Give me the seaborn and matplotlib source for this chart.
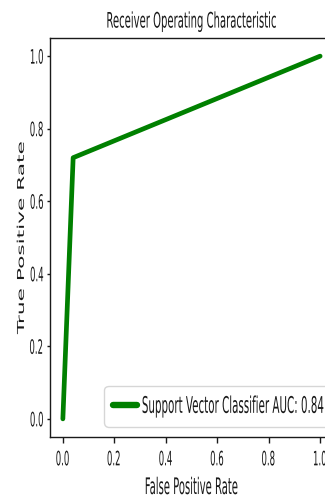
import matplotlib
matplotlib.use("Agg")
import matplotlib.pyplot as plt
from matplotlib.patheffects import AbstractPathEffect
from matplotlib.transforms import Affine2D
import seaborn as sns

# ROC curve of the support vector classifier
fpr = [0.0, 0.04, 1.0]
tpr = [0.0, 0.72, 1.0]
auc_score = 0.84

tick_values = [0.0, 0.2, 0.4, 0.6, 0.8, 1.0]
tick_labels = ["0.0", "0.2", "0.4", "0.6", "0.8", "1.0"]

title = "Receiver Operating Characteristic"
x_label = "False Positive Rate"
y_label = "True Positive Rate"
series_label = f"Support Vector Classifier AUC: {auc_score:.2f}"


class Condensed(AbstractPathEffect):
    """Squeeze text glyphs horizontally (screen space) about an anchor."""

    def __init__(self, factor=0.45, anchor="center"):
        super().__init__()
        self.factor = factor
        self.anchor = anchor

    def draw_path(self, renderer, gc, tpath, affine, rgbFace=None):
        pts = affine.transform(tpath.vertices)
        if len(pts) == 0:
            return
        x0, x1 = pts[:, 0].min(), pts[:, 0].max()
        ax_x = {"left": x0, "right": x1, "center": 0.5 * (x0 + x1)}[self.anchor]
        squeeze = (Affine2D().translate(-ax_x, 0)
                   .scale(self.factor, 1.0).translate(ax_x, 0))
        renderer.draw_path(gc, tpath, affine + squeeze, rgbFace)


sns.set_style("ticks")
plt.rcParams.update({
    "font.family": ["DejaVu Sans"],
    "axes.edgecolor": "0.1",
    "axes.linewidth": 1.0,
    "text.color": "0.1",
    "axes.labelcolor": "0.1",
    "xtick.color": "0.1",
    "ytick.color": "0.1",
})

fig = plt.figure(figsize=(3.25, 4.98), dpi=100)
ax = fig.add_axes([50 / 325, 61 / 498, 283 / 325, 399 / 498])

sns.lineplot(x=fpr, y=tpr, color="green", linewidth=3.4, label=series_label,
             estimator=None, sort=False, ax=ax)

ax.set_xlim(-0.05, 1.05)
ax.set_ylim(-0.05, 1.05)
ax.set_xticks(tick_values, tick_labels)
ax.set_yticks(tick_values, tick_labels)
ax.tick_params(axis="x", length=4.3, width=1.0, pad=5.3, labelsize=14.3)
ax.tick_params(axis="y", length=2.4, width=1.0, pad=1.8, labelsize=14.3)

ax.set_title(title, fontsize=15.4, pad=7.5)
ax.set_xlabel(x_label, fontsize=16.4)
ax.set_ylabel(y_label, fontsize=15.6)
ax.xaxis.set_label_coords(0.5, -0.1429)
ax.xaxis.label.set_va("baseline")
ax.yaxis.set_label_coords(-0.062, 0.5)

leg = ax.legend(loc="lower left", bbox_to_anchor=(0.191, 0.025),
                borderaxespad=0, fontsize=16.5, handlelength=1.05,
                handletextpad=0.2, borderpad=0.4, frameon=True)
leg.get_frame().set_edgecolor("0.8")
leg.get_frame().set_facecolor("white")
for line in leg.get_lines():
    line.set_linewidth(4.6)

# condensed lettering for every label
ax.title.set_path_effects([Condensed(0.47, "center")])
ax.xaxis.label.set_path_effects([Condensed(0.44, "center")])
ax.yaxis.label.set_path_effects([Condensed(0.44, "center")])
for t in ax.get_xticklabels():
    t.set_path_effects([Condensed(0.43, "center")])
for t in ax.get_yticklabels():
    t.set_path_effects([Condensed(0.43, "right")])
for t in leg.get_texts():
    t.set_path_effects([Condensed(0.45, "left")])

fig.savefig("out.png", dpi=100)
